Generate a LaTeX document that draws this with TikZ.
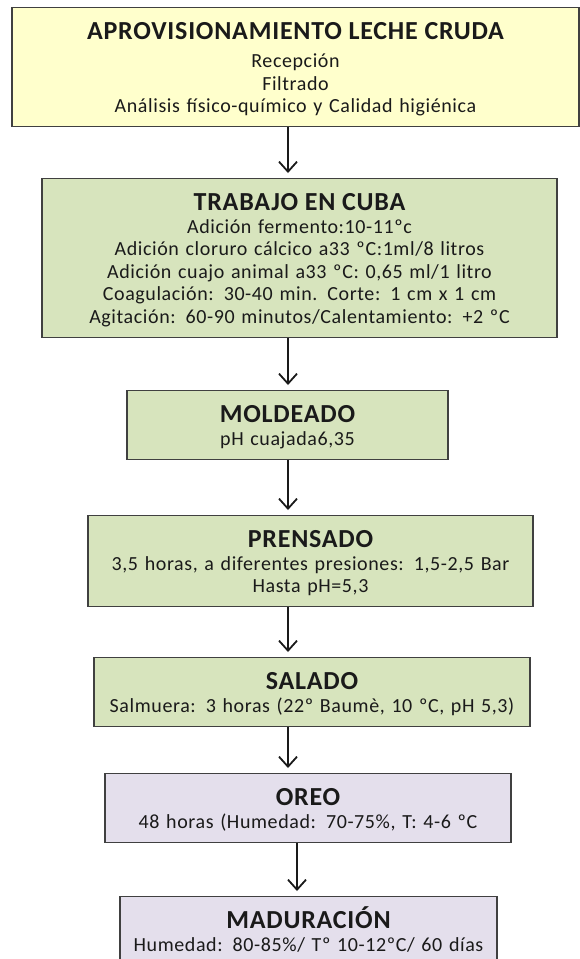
\documentclass[tikz,border=0pt]{standalone}
\usepackage{fontspec}
\setmainfont{Carlito}[LetterSpace=3]
\usetikzlibrary{arrows.meta}
\definecolor{amarillo}{HTML}{FFFFCC}
\definecolor{verde}{HTML}{D7E4BD}
\definecolor{lila}{HTML}{E4DFEC}
\definecolor{borde}{HTML}{404040}
\definecolor{tinta}{HTML}{1A1A1A}
\newcommand{\titulo}[1]{\rule{0pt}{32pt}{\fontsize{26}{22.5}\selectfont\bfseries #1}}
\newcommand{\fin}{\rule[-14pt]{0pt}{14pt}}

\begin{document}
\begin{tikzpicture}[x=1pt,y=-1pt,
    etapa/.style={draw=borde,line width=1.3pt,inner sep=0pt,anchor=north,align=center,
      text=tinta,font=\fontsize{20}{22.5}\selectfont},
    flecha/.style={draw=tinta,line width=1.8pt,shorten >=5pt,
      -{Straight Barb[length=10pt,width=18pt]}}]
    \useasboundingbox (0,0) rectangle (580,959);
    \coordinate (eje) at (288,0);
    \coordinate (eje2) at (297,0);

    \node[etapa,fill=amarillo,text width=567pt] (s_1) at (295.5,7)
        {\titulo{APROVISIONAMIENTO LECHE CRUDA}\\[5.5pt] Recepción\\ Filtrado\\
         Análisis físico-químico y Calidad higiénica\fin};
    \node[etapa,fill=verde,text width=515pt] (s_2) at (299.5,178)
        {\titulo{TRABAJO EN CUBA}\\ Adición fermento:10-11ºc\\
         Adición cloruro cálcico a33 ºC:1ml/8 litros\\
         Adición cuajo animal a33 ºC: 0,65 ml/1 litro\\
         Coagulación: 30-40 min. Corte: 1 cm x 1 cm\\
         Agitación: 60-90 minutos/Calentamiento: +2 ºC\fin};
    \node[etapa,fill=verde,text width=321pt] (s_3) at (287.5,390)
        {\titulo{MOLDEADO}\\ pH cuajada6,35\fin};
    \node[etapa,fill=verde,text width=445pt] (s_4) at (310.5,515)
        {\titulo{PRENSADO}\\ 3,5 horas, a diferentes presiones: 1,5-2,5 Bar\\ Hasta pH=5,3\fin};
    \node[etapa,fill=verde,text width=436pt] (s_5) at (312,657)
        {\titulo{SALADO}\\ Salmuera: 3 horas (22º Baumè, 10 ºC, pH 5,3)\fin};
    \node[etapa,fill=lila,text width=406pt] (s_6) at (308,773)
        {\titulo{OREO}\\ 48 horas (Humedad: 70-75\%, T: 4-6 ºC\fin};
    \node[etapa,fill=lila,text width=377pt] (s_7) at (308.5,896)
        {\titulo{MADURACIÓN}\\ Humedad: 80-85\%/ Tº 10-12ºC/ 60 días\fin};

    \draw[flecha] (s_1.south -| eje) -- (s_2.north -| eje);
    \draw[flecha] (s_2.south -| eje) -- (s_3.north -| eje);
    \draw[flecha] (s_3.south -| eje) -- (s_4.north -| eje);
    \draw[flecha] (s_4.south -| eje) -- (s_5.north -| eje);
    \draw[flecha] (s_5.south -| eje) -- (s_6.north -| eje);
    \draw[flecha] (s_6.south -| eje2) -- (s_7.north -| eje2);
\end{tikzpicture}
\end{document}
